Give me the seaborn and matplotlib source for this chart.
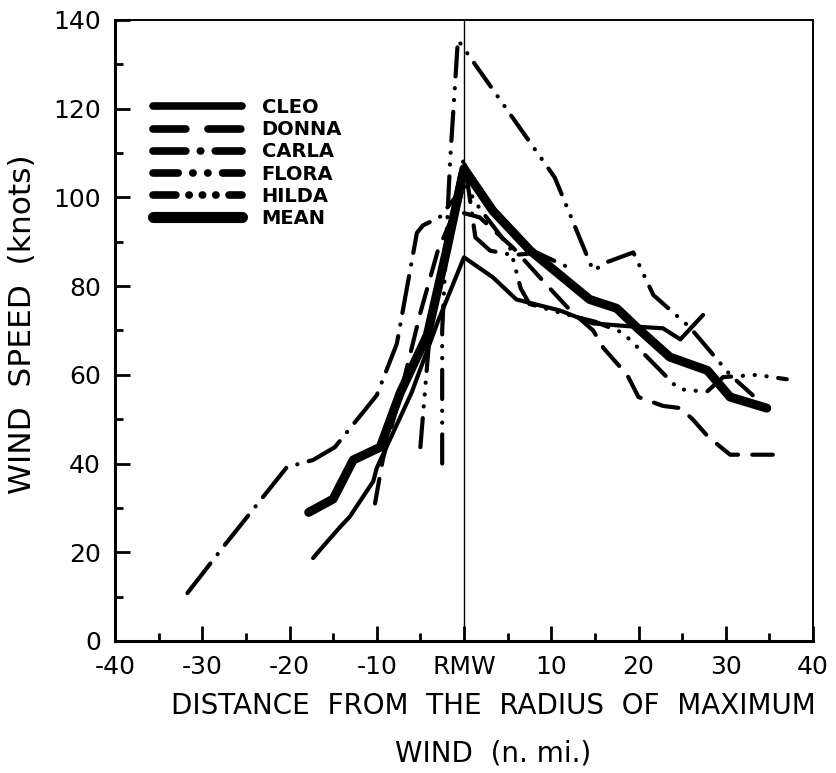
import pandas as pd
import matplotlib
matplotlib.use("Agg")
import matplotlib.pyplot as plt
from matplotlib.lines import Line2D
import seaborn as sns

# values (distance from RMW in n.mi., wind speed in knots)
storms = ["CLEO", "DONNA", "CARLA", "FLORA", "HILDA", "MEAN"]

cleo_x = [-17.3, -16.3, -14.2, -13.1, -10.4, -10, -6, -3, 0, 3.3, 6, 11, 14.8, 18.6, 22.8, 24.8, 27.4]
cleo_y = [18.7, 21, 25.7, 28, 36, 39, 56, 72, 86.5, 82, 77, 74.5, 71.6, 71, 70.5, 68, 73.5]

donna_x = [-10.2, -9.3, -7, -5, -3, -1, 1.8, 5.6, 9.6, 12.2, 14.8, 16, 18.7, 20, 22.8, 24.8, 26.2, 28, 30.5, 32, 35.4]
donna_y = [31, 41, 58, 74, 88, 97, 95.5, 88.7, 80, 74.5, 70, 66, 60, 55, 53, 52.5, 50, 46, 42, 42, 42]

carla_x = [-31.7, -27.6, -20.3, -17.3, -14.8, -10, -7.7, -5.4, -4.7, -2.8, -1, 0, 1.3, 3, 5.6, 8.4, 12.2]
carla_y = [10.8, 21.2, 39.2, 40.8, 43.7, 55.4, 67, 92, 93.7, 95.5, 100, 109, 91, 88, 87, 87.5, 84]

flora_x = [-2.5, -2.5, -1.6, -0.7, 10.4, 14.8, 16.5, 19.4, 21.7, 25.9, 30.5, 33.1]
flora_y = [40, 70, 108, 135.5, 104.5, 83.5, 85.5, 87.6, 78, 70.7, 60, 55.4]

hilda_x = [-5, -3.9, -3.5, -2, 0, 0.7, 1.8, 5.3, 6.5, 7.5, 11, 15, 18.2, 20.5, 24.5, 25.6, 27.9, 29.7, 33.6, 37]
hilda_y = [43.7, 70, 74, 88, 103, 101, 97.5, 88.5, 79.5, 76, 74, 72, 69.5, 65, 57, 56.5, 56.3, 59.5, 60, 59]

mean_x = [-17.8, -15, -12.7, -9.6, -7.3, -4.2, -2, 0, 3.3, 7.6, 14.4, 17.5, 19.8, 23.6, 27.9, 30.5, 34.7]
mean_y = [29, 32, 40.8, 43.7, 56, 69, 88, 106.5, 97, 88, 77, 75, 70.7, 64, 61, 55, 52.5]

xtick_vals = [-40, -30, -20, -10, 0, 10, 20, 30, 40]
xtick_labels = ["-40", "-30", "-20", "-10", "RMW", "10", "20", "30", "40"]

# build a long table for seaborn
frames = []
for name, xs, ys in zip(storms,
                        [cleo_x, donna_x, carla_x, flora_x, hilda_x, mean_x],
                        [cleo_y, donna_y, carla_y, flora_y, hilda_y, mean_y]):
    frames.append(pd.DataFrame({"dist": xs, "speed": ys, "storm": name}))
df = pd.concat(frames, ignore_index=True)

# dash patterns in units of line width
dashes = {
    "CLEO": "",
    "DONNA": (6, 3.4),
    "CARLA": (9, 2.8, 0.05, 2.8),
    "FLORA": (7, 2.8, 0.05, 2.8, 0.05, 2.8),
    "HILDA": (7, 2.8, 0.05, 2.8, 0.05, 2.8, 0.05, 2.8),
    "MEAN": "",
}
sizes = {s: 3.0 for s in storms}
sizes["MEAN"] = 6.5

sns.set_style("ticks")
plt.rcParams["font.family"] = ["DejaVu Sans"]
for key in ["text.color", "axes.labelcolor", "xtick.color", "ytick.color", "axes.edgecolor"]:
    plt.rcParams[key] = "black"

fig = plt.figure(figsize=(8.36, 7.73), dpi=100)
ax = fig.add_axes([115 / 836, 1 - 641 / 773, 698 / 836, 621 / 773])

sns.lineplot(
    data=df, x="dist", y="speed",
    style="storm", size="storm",
    style_order=storms, size_order=storms,
    dashes=dashes, sizes=sizes,
    color="black", estimator=None, sort=False,
    legend=False, ax=ax,
    dash_capstyle="round", solid_capstyle="round", solid_joinstyle="round",
)

ax.axvline(0, color="black", lw=1.0, zorder=0)

ax.set_xlim(-40, 40)
ax.set_ylim(0, 140)
ax.set_xticks(xtick_vals)
ax.set_xticklabels(xtick_labels)
ax.set_xticks(range(-35, 40, 10), minor=True)
ax.set_yticks(range(0, 141, 20))
ax.set_yticks(range(10, 140, 20), minor=True)

for lab in ax.get_xticklabels() + ax.get_yticklabels():
    lab.set_fontsize(18)

ax.tick_params(which="both", direction="in", width=2, color="black", top=False, right=False)
ax.tick_params(which="major", length=11)
ax.tick_params(which="minor", length=6)
ax.tick_params(axis="y", pad=10)
ax.tick_params(axis="x", pad=10)
for side in ["left", "bottom"]:
    ax.spines[side].set_linewidth(2.2)
for side in ["top", "right"]:
    ax.spines[side].set_linewidth(1.4)

ax.set_ylabel("WIND  SPEED  (knots)", fontsize=22.5)
ax.yaxis.set_label_coords(-0.112, 0.51)
ax.set_xlabel("DISTANCE  FROM  THE  RADIUS  OF  MAXIMUM\nWIND  (n. mi.)",
              fontsize=20, linespacing=1.9, va="top")
ax.xaxis.set_label_coords(0.5415, -0.082)

# legend proxies (thicker strokes as on the original key)
leg_dashes = {
    "CLEO": "",
    "DONNA": (4.3, 2.9),
    "CARLA": (4.3, 1.9, 0.05, 1.9),
    "FLORA": (3.3, 1.9, 0.05, 1.9, 0.05, 1.9),
    "HILDA": (3.0, 1.7, 0.05, 1.7, 0.05, 1.7, 0.05, 1.7),
    "MEAN": "",
}
handles = []
for s in storms:
    h = Line2D([], [], color="black", lw=8.0 if s == "MEAN" else 5.5,
               dash_capstyle="round", solid_capstyle="round")
    h.set_dashes(leg_dashes[s])
    handles.append(h)
ax.legend(handles, storms, loc="upper left", bbox_to_anchor=(0.054, 0.874),
          frameon=False, handlelength=4.6, handletextpad=1.0, labelspacing=0.16,
          borderpad=0, borderaxespad=0,
          prop={"family": "DejaVu Sans", "weight": "bold", "size": 14})

fig.savefig("out.png", dpi=100, facecolor="white")
